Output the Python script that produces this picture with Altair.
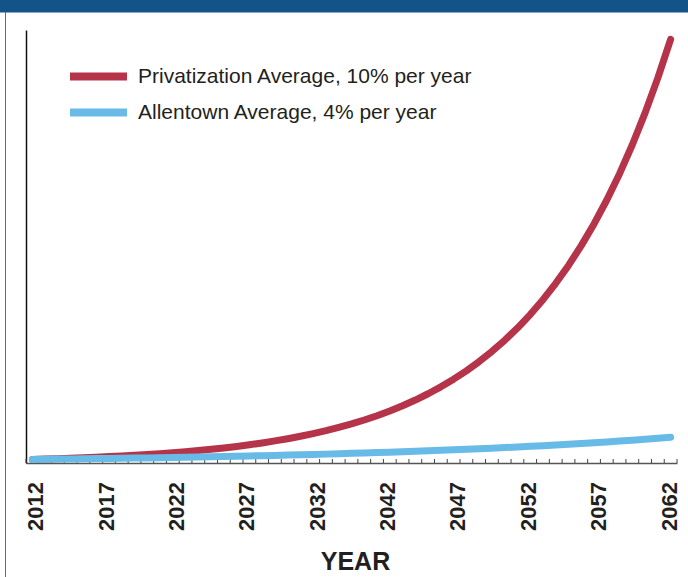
import altair as alt
import pandas as pd

# ---- data ----
years = list(range(2012, 2063))
privatization = [1.00, 1.10, 1.21, 1.33, 1.46, 1.61, 1.77, 1.95, 2.14, 2.36,
                 2.59, 2.85, 3.14, 3.45, 3.80, 4.18, 4.59, 5.05, 5.56, 6.12,
                 6.73, 7.40, 8.14, 8.95, 9.85, 10.83, 11.92, 13.11, 14.42, 15.86,
                 17.45, 19.19, 21.11, 23.23, 25.55, 28.10, 30.91, 34.00, 37.40, 41.14,
                 45.26, 49.79, 54.76, 60.24, 66.26, 72.89, 80.18, 88.20, 97.02, 106.72,
                 117.39]
allentown = [1.00, 1.04, 1.08, 1.12, 1.17, 1.22, 1.27, 1.32, 1.37, 1.42,
             1.48, 1.54, 1.60, 1.67, 1.73, 1.80, 1.87, 1.95, 2.03, 2.11,
             2.19, 2.28, 2.37, 2.46, 2.56, 2.67, 2.77, 2.88, 3.00, 3.12,
             3.24, 3.37, 3.51, 3.65, 3.79, 3.95, 4.10, 4.27, 4.44, 4.62,
             4.80, 4.99, 5.19, 5.40, 5.62, 5.84, 6.07, 6.32, 6.57, 6.83,
             7.11]
series_names = ["Privatization Average, 10% per year", "Allentown Average, 4% per year"]
series_colors = ["#b5344a", "#68bbe6"]
tick_labels = ["2012", "2017", "2022", "2027", "2032", "2042", "2047", "2052", "2057", "2062"]

df = pd.DataFrame({
    "year": years * 2,
    "value": privatization + allentown,
    "series": [series_names[0]] * len(years) + [series_names[1]] * len(years),
})
ticks_df = pd.DataFrame({"tick": [y - 0.5 for y in years + [years[-1] + 1]]})
labels_df = pd.DataFrame({"label": tick_labels})

W, H = 651, 433
xscale = alt.Scale(domain=[2011.5, 2062.5], nice=False, zero=False)
yscale = alt.Scale(domain=[0, 120], nice=False)
color = alt.Color("series:N",
                  scale=alt.Scale(domain=series_names, range=series_colors),
                  legend=alt.Legend(
                      title=None, orient="none", legendX=59, legendY=33,
                      symbolType="M-3,0L3,0", symbolSize=361, symbolStrokeWidth=8,
                      labelFont="Liberation Sans",
                      labelFontSize=21, labelColor="#231f20", labelOffset=26,
                      rowPadding=3, padding=0, labelLimit=500))

base = alt.Chart(df)
red = base.transform_filter(alt.datum.series == series_names[0]).mark_line(
    strokeWidth=7, strokeCap="round", strokeJoin="round").encode(
    x=alt.X("year:Q", scale=xscale,
            axis=alt.Axis(title="YEAR", labels=False, ticks=False, grid=False,
                          domain=True, domainColor="#555555", domainWidth=1.5,
                          titleFont="Liberation Sans", titleFontSize=25,
                          titleFontWeight="bold", titleColor="#231f20",
                          titleX=329, titleY=106, titleBaseline="alphabetic",
                          titleAnchor="middle", titleAlign="center")),
    y=alt.Y("value:Q", scale=yscale,
            axis=alt.Axis(title=None, labels=False, ticks=False, grid=False,
                          domain=True, domainColor="#111111", domainWidth=1.5)),
    color=color,
)
blue = base.transform_filter(alt.datum.series == series_names[1]).mark_line(
    strokeWidth=7, strokeCap="round", strokeJoin="round").encode(
    x=alt.X("year:Q", scale=xscale),
    y=alt.Y("value:Q", scale=yscale),
    color=color,
)

tick_rules = alt.Chart(ticks_df).mark_rule(color="#444444", strokeWidth=1).encode(
    x=alt.X("tick:Q", scale=xscale),
    y=alt.value(H - 4), y2=alt.value(H),
)

label_text = alt.Chart(labels_df).transform_window(
    idx="row_number()"
).transform_calculate(
    pos="2012.3 + (datum.idx - 1) * 5.513"
).mark_text(angle=270, align="right", baseline="middle", font="Liberation Sans",
            fontSize=22, fontWeight="bold", color="#231f20").encode(
    x=alt.X("pos:Q", scale=xscale),
    y=alt.value(452),
    text="label:N",
)

deco = alt.Data(values=[{"k": 1}])
header = alt.Chart(deco).mark_rect(color="#13538a").encode(
    x=alt.value(-26), x2=alt.value(688 - 26), y=alt.value(-30), y2=alt.value(-17.5))
border = alt.Chart(deco).mark_rule(color="#3a74b4", strokeWidth=1).encode(
    x=alt.value(-20.5), y=alt.value(-18), y2=alt.value(577 - 30))

chart = alt.layer(header, border, tick_rules, red, blue, label_text).properties(
    width=W, height=H,
    autosize=alt.AutoSizeParams(type="none"),
    padding={"left": 26, "top": 30, "right": 11, "bottom": 114},
    background="white",
).configure_view(stroke=None)

chart.save("out.html", embed_options={"renderer": "svg", "actions": False})
